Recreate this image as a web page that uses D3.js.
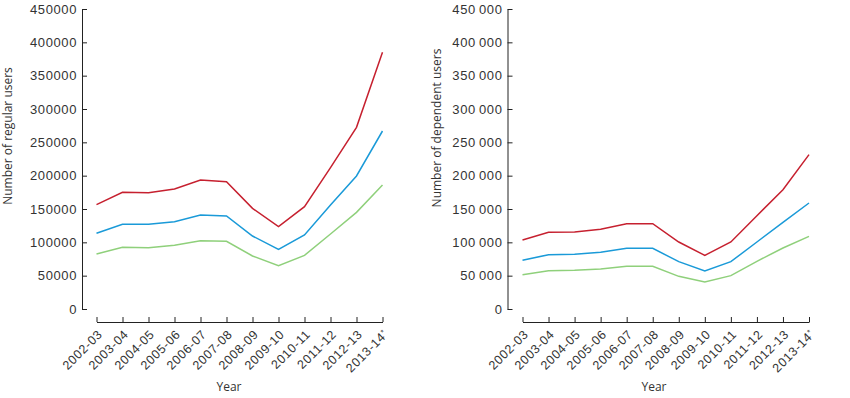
<!DOCTYPE html>
<html>
<head>
<meta charset="utf-8">
<script src="https://cdn.jsdelivr.net/npm/d3@7"></script>
<style>
  body { margin: 0; background: #fff; }
  svg { display: block; font-family: 'Open Sans', sans-serif; }
  .axis path, .axis line { stroke: #222; }
  .axis text { fill: #333; font-size: 13px; letter-spacing: 0.6px; }
  .label { fill: #333; font-size: 12px; }
</style>
</head>
<body>
<svg id="chart" width="850" height="398"></svg>
<script>
const years = ['2002-03', '2003-04', '2004-05', '2005-06', '2006-07', '2007-08',
  '2008-09', '2009-10', '2010-11', '2011-12', '2012-13', '2013-14']
const yTicks = [0, 50000, 100000, 150000, 200000, 250000, 300000, 350000, 400000, 450000]

const regularUpper = [156500, 175000, 174500, 180000, 193500, 191000, 151000, 123500, 153500, 212000, 272500, 385000]
const regularMid = [113500, 127000, 127000, 131000, 141000, 139500, 109500, 89500, 111000, 156000, 199500, 267000]
const regularLower = [82500, 92500, 92000, 95500, 102500, 101500, 79500, 65000, 80500, 112500, 145000, 186000]

const dependentUpper = [103500, 115000, 115500, 119500, 128000, 128000, 100500, 80500, 100500, 140000, 179000, 231500]
const dependentMid = [73000, 81500, 82000, 85000, 91000, 91000, 71000, 57000, 71000, 100500, 130000, 159000]
const dependentLower = [51500, 57500, 58000, 60000, 64000, 64000, 49000, 40500, 50000, 71500, 91500, 109000]

const colors = ['#c6202f', '#1a9ad8', '#8fd07b']
const svg = d3.select('#chart')

const panels = [
  { left: 82, x0: 96.5, x1: 382.5, title: 'Number of regular users', titleX: 8, titleY: 136, yearX: 229,
    sep: '', sets: [regularUpper, regularMid, regularLower] },
  { left: 507.5, x0: 522.5, x1: 809, title: 'Number of dependent users', titleX: 437, titleY: 128, yearX: 654,
    sep: '\u2009', sets: [dependentUpper, dependentMid, dependentLower] }
]

const yScale = d3.scaleLinear().domain([0, 450000]).range([309, 9])
const axisY = 322

panels.forEach(p => {
  const xScale = d3.scalePoint().domain(years).range([p.x0, p.x1])
  const fmt = d => {
    const s = String(d)
    return s.length > 3 ? s.slice(0, -3) + p.sep + s.slice(-3) : s
  }

  svg.append('g').attr('class', 'axis')
    .attr('transform', `translate(${p.left},0)`)
    .call(d3.axisLeft(yScale).tickValues(yTicks).tickFormat(fmt).tickSize(-5).tickSizeOuter(0).tickPadding(5))

  const xg = svg.append('g').attr('class', 'axis')
    .attr('transform', `translate(0,${axisY})`)
    .call(d3.axisBottom(xScale).tickSize(-5).tickSizeOuter(0))

  xg.selectAll('.tick text')
    .attr('x', 0).attr('y', 0).attr('dy', '0.35em')
    .attr('transform', 'translate(3,10) rotate(-45)')
    .style('text-anchor', 'end')
    .style('font-size', '12.5px')
    .each(function(d) {
      if (d === '2013-14') {
        d3.select(this).append('tspan').attr('dy', '-0.5em').style('font-size', '8px').text('*')
      }
    })

  const line = d3.line().x((d, i) => xScale(years[i])).y(d => yScale(d))
  p.sets.forEach((set, i) => {
    svg.append('path').datum(set)
      .attr('fill', 'none').attr('stroke', colors[i]).attr('stroke-width', 1.5)
      .attr('d', line)
  })

  svg.append('text').attr('class', 'label')
    .attr('transform', `translate(${p.titleX},${p.titleY}) rotate(-90)`)
    .attr('dy', '0.35em').style('text-anchor', 'middle')
    .text(p.title)

  svg.append('text').attr('class', 'label')
    .attr('x', p.yearX).attr('y', 387).attr('dy', '0.35em')
    .style('text-anchor', 'middle')
    .text('Year')
})
</script>
</body>
</html>
